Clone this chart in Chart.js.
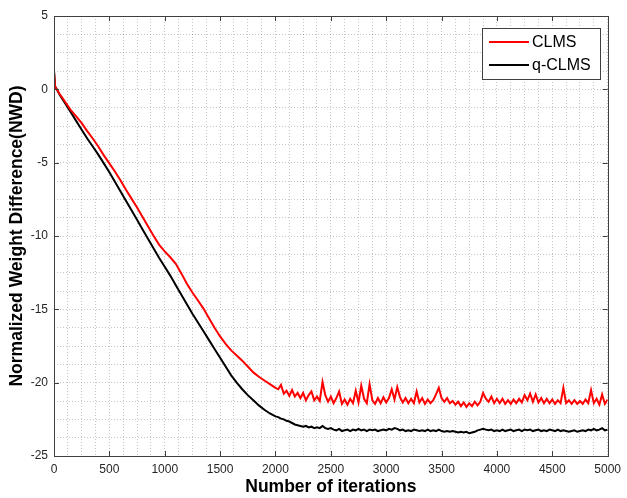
<!DOCTYPE html>
<html>
<head>
<meta charset="utf-8">
<script src="https://cdn.jsdelivr.net/npm/chart.js@4/dist/chart.umd.min.js"></script>
<style>
  body { margin: 0; background: #fff; }
  canvas { display: block; }
</style>
</head>
<body>
<canvas id="nwdChart" width="627" height="498"></canvas>
<script>
// Data
const seriesNames = ['CLMS', 'q-CLMS'];
const seriesColors = ['#ff0000', '#000000'];

// Fast-descent part (iterations 0..2000)
const descentIters = [0, 10, 25, 50, 100, 150, 200, 250, 300, 350, 400, 450, 500, 550, 600, 650, 700, 750, 800, 850, 900,
  950, 1000, 1050, 1100, 1150, 1200, 1250, 1300, 1350, 1400, 1450, 1500, 1550, 1600, 1650, 1700, 1750, 1800, 1850, 1900, 1950, 2000];
const clmsDescent = [1.2, 0.2, 0.0, -0.3, -0.85, -1.4, -1.85, -2.3, -2.85, -3.35, -3.9, -4.5, -5.05, -5.6, -6.2, -6.85, -7.45, -8.05, -8.7, -9.35, -10.0,
  -10.6, -11.05, -11.45, -11.9, -12.55, -13.25, -13.85, -14.4, -14.95, -15.6, -16.25, -16.85, -17.35, -17.8, -18.15, -18.5, -18.9, -19.3, -19.6, -19.85, -20.1, -20.35];
const qclmsDescent = [1.3, 0.2, 0.0, -0.35, -0.95, -1.55, -2.15, -2.75, -3.35, -3.9, -4.45, -5.05, -5.65, -6.3, -6.95, -7.6, -8.25, -8.9, -9.55, -10.2, -10.85,
  -11.5, -12.1, -12.7, -13.35, -14.0, -14.65, -15.3, -15.9, -16.5, -17.1, -17.7, -18.3, -18.9, -19.5, -20.0, -20.45, -20.85, -21.2, -21.55, -21.85, -22.1, -22.3];

// Steady-state part, sampled every 25 iterations from 2025 to 5000
const plateauStart = 2025;
const plateauStep = 25;
const clmsPlateau = [
  -20.45, -20.15, -20.75, -20.55, -20.9, -20.5, -20.95, -20.7,
  -21.05, -20.7, -21.2, -20.85, -20.6, -21.2, -20.95, -21.25,
  -19.95, -20.85, -21.3, -20.95, -21.4, -21.05, -20.6, -21.45,
  -21.15, -21.5, -21.1, -21.4, -20.55, -21.35, -20.2, -21.1,
  -21.4, -20.1, -21.2, -21.45, -21.05, -21.4, -21.0, -21.35,
  -21.05, -20.45, -21.15, -20.3, -21.0, -21.35, -21.05, -21.4,
  -21.1, -21.4, -20.6, -21.35, -21.05, -21.45, -21.15, -21.4,
  -21.2, -20.8, -20.35, -21.05, -21.3, -21.05, -21.4, -21.25,
  -21.5, -21.3, -21.6, -21.35, -21.65, -21.4, -21.6, -21.3,
  -21.55, -21.3, -20.7, -21.1, -21.3, -20.95, -21.4, -21.1,
  -21.4, -21.1, -21.45, -21.2, -21.45, -21.15, -21.4, -21.1,
  -21.35, -20.85, -21.2, -20.75, -21.3, -20.8, -21.35, -21.05,
  -21.4, -21.1, -21.4, -21.15, -21.45, -21.2, -21.4, -20.35,
  -21.4, -21.2, -21.45, -21.2, -21.45, -21.25, -21.45, -21.15,
  -21.4, -20.5, -21.4, -21.1, -21.5, -20.8, -21.45, -21.15
];
const qclmsPlateau = [
  -22.35, -22.45, -22.5, -22.6, -22.65, -22.75, -22.85, -22.9,
  -22.95, -23.0, -22.95, -23.05, -23.0, -23.1, -23.05, -23.1,
  -22.95, -23.1, -23.15, -23.1, -23.2, -23.25, -23.15, -23.3,
  -23.25, -23.2, -23.3, -23.2, -23.25, -23.15, -23.25, -23.2,
  -23.3, -23.2, -23.25, -23.2, -23.3, -23.25, -23.2, -23.25,
  -23.15, -23.2, -23.1, -23.15, -23.25, -23.2, -23.3, -23.25,
  -23.3, -23.2, -23.25, -23.3, -23.25, -23.3, -23.2, -23.3,
  -23.25, -23.3, -23.2, -23.3, -23.35, -23.3, -23.35, -23.3,
  -23.35, -23.4, -23.35, -23.4, -23.35, -23.45, -23.4, -23.35,
  -23.25, -23.2, -23.15, -23.2, -23.25, -23.2, -23.3, -23.25,
  -23.3, -23.2, -23.3, -23.25, -23.2, -23.3, -23.25, -23.2,
  -23.3, -23.2, -23.25, -23.2, -23.3, -23.25, -23.2, -23.3,
  -23.25, -23.3, -23.2, -23.25, -23.3, -23.2, -23.3, -23.25,
  -23.3, -23.35, -23.3, -23.25, -23.35, -23.3, -23.25, -23.3,
  -23.2, -23.25, -23.15, -23.25, -23.2, -23.1, -23.25, -23.2
];

// Axis settings
const xMin = 0, xMax = 5000, xMajor = 500, xMinor = 125;
const yMin = -25, yMax = 5, yMajor = 5, yMinor = 1.25;
const xTitle = 'Number of iterations';
const yTitle = 'Normalized Weight Difference(NWD)';

const FONT = '"Liberation Sans", Arial, Helvetica, sans-serif';
const AXIS_COLOR = '#404040';

function toPoints(descent, plateau) {
  const pts = descentIters.map((it, i) => ({ x: it, y: descent[i] }));
  plateau.forEach((v, i) => pts.push({ x: plateauStart + i * plateauStep, y: v }));
  return pts;
}

// Box, inward tick marks and legend, MATLAB style
const matlabFrame = {
  id: 'matlabFrame',
  afterDraw(chart) {
    const { ctx, chartArea: a, scales } = chart;
    const xs = scales.x, ys = scales.y;
    ctx.save();
    ctx.strokeStyle = AXIS_COLOR;
    ctx.lineWidth = 1;
    ctx.beginPath();
    for (let v = xMin; v <= xMax; v += xMajor) {
      const px = Math.round(xs.getPixelForValue(v)) + 0.5;
      ctx.moveTo(px, a.bottom); ctx.lineTo(px, a.bottom - 5);
      ctx.moveTo(px, a.top); ctx.lineTo(px, a.top + 5);
    }
    for (let v = yMin; v <= yMax; v += yMajor) {
      const py = Math.round(ys.getPixelForValue(v)) + 0.5;
      ctx.moveTo(a.left, py); ctx.lineTo(a.left + 5, py);
      ctx.moveTo(a.right, py); ctx.lineTo(a.right - 5, py);
    }
    ctx.stroke();
    ctx.strokeRect(Math.round(a.left) + 0.5, Math.round(a.top) + 0.5,
      Math.round(a.right - a.left), Math.round(a.bottom - a.top));

    // legend
    const lx = 482.5, ly = 28.5, lw = 118, lh = 51;
    ctx.fillStyle = '#fff';
    ctx.fillRect(lx, ly, lw, lh);
    ctx.strokeRect(lx, ly, lw, lh);
    ctx.font = '16px ' + FONT;
    ctx.textBaseline = 'middle';
    chart.data.datasets.forEach((ds, i) => {
      const y = 42 + i * 23;
      ctx.strokeStyle = ds.borderColor;
      ctx.lineWidth = 2;
      ctx.beginPath();
      ctx.moveTo(489, y); ctx.lineTo(529, y);
      ctx.stroke();
      ctx.fillStyle = '#000';
      ctx.fillText(ds.label, 532, y + 1);
    });
    ctx.restore();
  }
};

new Chart(document.getElementById('nwdChart'), {
  type: 'line',
  data: {
    datasets: [
      { label: seriesNames[0], data: toPoints(clmsDescent, clmsPlateau), borderColor: seriesColors[0] },
      { label: seriesNames[1], data: toPoints(qclmsDescent, qclmsPlateau), borderColor: seriesColors[1] }
    ]
  },
  options: {
    responsive: false,
    animation: false,
    devicePixelRatio: 1,
    layout: { padding: { top: 16, right: 15, left: 0, bottom: 0 } },
    elements: {
      point: { radius: 0 },
      line: { borderWidth: 2, tension: 0, fill: false }
    },
    plugins: { legend: { display: false }, tooltip: { enabled: false } },
    scales: {
      x: {
        type: 'linear',
        min: xMin, max: xMax,
        afterFit: (s) => { s.height = 42; },
        grid: { color: 'rgba(0,0,0,0.22)', drawTicks: false, lineWidth: 1 },
        border: { display: false, dash: [1, 2] },
        ticks: {
          stepSize: xMinor, autoSkip: false, maxRotation: 0, padding: 6,
          color: '#262626', font: { family: FONT, size: 12 },
          callback: (v) => (v % xMajor === 0 ? String(v) : '')
        },
        title: {
          display: true, text: xTitle, color: '#000',
          font: { family: FONT, size: 17.5, weight: 'bold' },
          padding: { top: 0, bottom: 0 }
        }
      },
      y: {
        type: 'linear',
        min: yMin, max: yMax,
        afterFit: (s) => { s.width = 54; },
        grid: { color: 'rgba(0,0,0,0.22)', drawTicks: false, lineWidth: 1 },
        border: { display: false, dash: [1, 2] },
        ticks: {
          stepSize: yMinor, autoSkip: false, padding: 6,
          color: '#262626', font: { family: FONT, size: 12 },
          callback: (v) => (v % yMajor === 0 ? String(v) : '')
        },
        title: {
          display: true, text: yTitle, color: '#000',
          font: { family: FONT, size: 17.5, weight: 'bold' },
          padding: { top: 7, bottom: 0 }
        }
      }
    }
  },
  plugins: [matlabFrame]
});
</script>
</body>
</html>
